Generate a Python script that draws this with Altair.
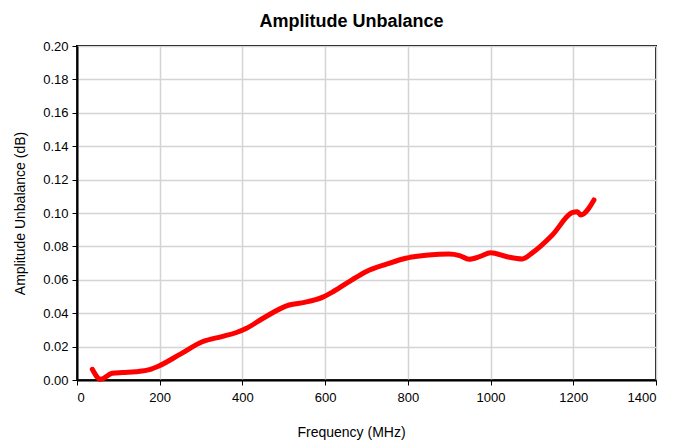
import altair as alt
import pandas as pd

freq = [37, 57, 85, 110, 142, 175, 198, 250, 303, 350, 384, 410, 450, 513, 550, 593, 620, 665, 700, 750, 795, 850, 899, 925, 948, 975, 1000, 1040, 1077, 1100, 1150, 1197, 1210, 1218, 1250]
amp = [0.0064, 0.0004, 0.0040, 0.0045, 0.0050, 0.0062, 0.0084, 0.0155, 0.0229, 0.0260, 0.0283, 0.0310, 0.0370, 0.0449, 0.0465, 0.0495, 0.0530, 0.0600, 0.0650, 0.0695, 0.0729, 0.0748, 0.0754, 0.0745, 0.0723, 0.0740, 0.0762, 0.0738, 0.0725, 0.0760, 0.0870, 0.1002, 0.1008, 0.0988, 0.1078]

df = pd.DataFrame({"freq": freq, "amp": amp})

font = "Liberation Sans"

chart = alt.Chart(df).mark_line(color="#ff0000", strokeWidth=5, interpolate="monotone", strokeCap="round").encode(
    x=alt.X("freq:Q", scale=alt.Scale(domain=[0, 1400], nice=False),
            axis=alt.Axis(values=list(range(0, 1401, 200)), format="d", title="Frequency (MHz)", titleX=274,
                          labelFontSize=13, titleFontSize=14, titleFontWeight="normal",
                          labelFont=font, titleFont=font, titlePadding=21, labelPadding=6,
                          tickColor="black", tickSize=5, domainColor="black", domainWidth=2,
                          gridColor="#d4d4d4", gridWidth=1.5, labelColor="black", titleColor="black")),
    y=alt.Y("amp:Q", scale=alt.Scale(domain=[0, 0.2], nice=False),
            axis=alt.Axis(values=[i / 100 for i in range(0, 21, 2)], format=".2f", title="Amplitude Unbalance (dB)",
                          labelFontSize=13, titleFontSize=14, titleFontWeight="normal",
                          labelFont=font, titleFont=font, titlePadding=15, labelPadding=4,
                          tickColor="black", tickSize=5, domainColor="black", domainWidth=2,
                          gridColor="#d4d4d4", gridWidth=1.5, labelColor="black", titleColor="black")),
).properties(
    width=579, height=334,
    title=alt.TitleParams("Amplitude Unbalance", font=font, fontSize=18, fontWeight="bold", color="black", dx=-15, offset=9),
).configure_view(stroke="black", strokeWidth=2)

chart.save("out.html", embed_options={"renderer": "svg", "actions": False})
